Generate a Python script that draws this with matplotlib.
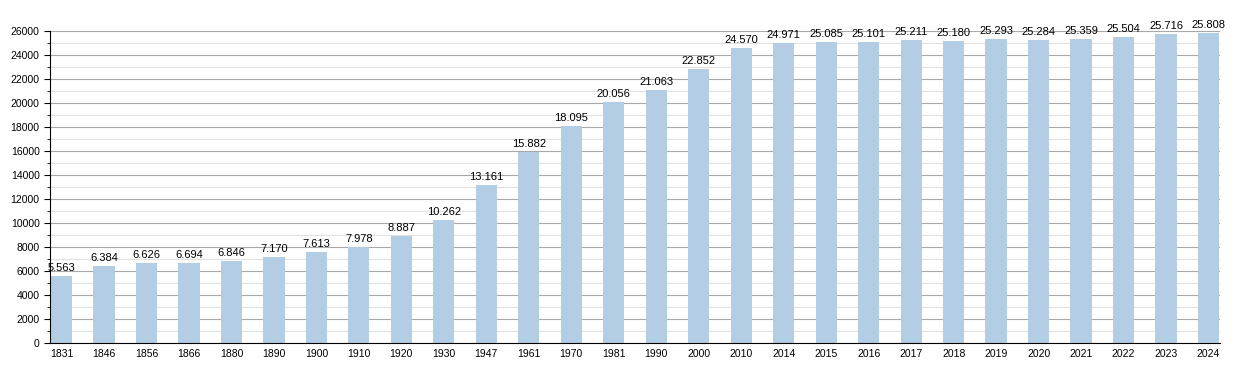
import matplotlib
matplotlib.use('Agg')
import matplotlib.pyplot as plt
from matplotlib.ticker import MultipleLocator

years = ['1831', '1846', '1856', '1866', '1880', '1890', '1900', '1910', '1920', '1930',
         '1947', '1961', '1970', '1981', '1990', '2000', '2010', '2014', '2015', '2016',
         '2017', '2018', '2019', '2020', '2021', '2022', '2023', '2024']
population = [5563, 6384, 6626, 6694, 6846, 7170, 7613, 7978, 8887, 10262,
              13161, 15882, 18095, 20056, 21063, 22852, 24570, 24971, 25085, 25101,
              25211, 25180, 25293, 25284, 25359, 25504, 25716, 25808]

plt.rcParams['font.family'] = 'Liberation Sans'
fig = plt.figure(figsize=(12.5, 3.73), dpi=100)
ax = fig.add_axes([0.04, 0.0804, 0.936, 0.8365])

x = list(range(len(years)))
ax.bar(x, population, width=0.5, color='#b3cde4', zorder=2)

for i, v in enumerate(population):
    ax.text(i, v + 250, f'{v:,}'.replace(',', '.'), ha='center', va='bottom', fontsize=8)

ax.set_xlim(-0.27, len(years) - 1 + 0.27)
ax.set_ylim(0, 26000)
ax.set_xticks(x)
ax.set_xticklabels(years, fontsize=7.5)
ax.yaxis.set_major_locator(MultipleLocator(2000))
ax.yaxis.set_minor_locator(MultipleLocator(1000))
ax.tick_params(axis='y', labelsize=7.5, length=4)
ax.tick_params(axis='y', which='minor', length=2)
ax.tick_params(axis='x', length=0, pad=4)
ax.grid(axis='y', which='major', color='#a8a8a8', linewidth=0.8, zorder=0)
ax.grid(axis='y', which='minor', color='#e0e0e0', linewidth=0.8, zorder=0)
ax.spines['top'].set_visible(False)
ax.spines['right'].set_visible(False)

plt.savefig('out.png')
